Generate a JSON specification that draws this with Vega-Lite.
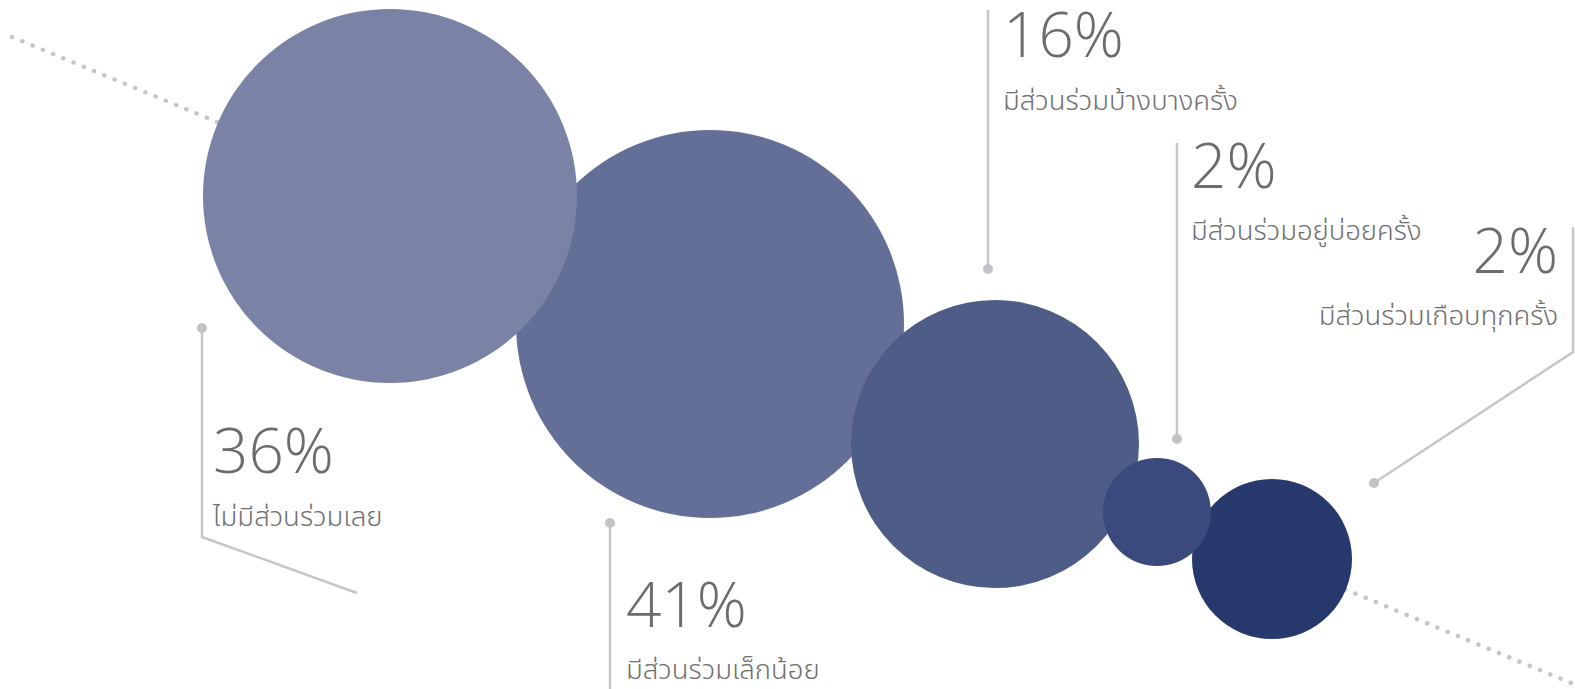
{
  "$schema": "https://vega.github.io/schema/vega-lite/v6.json",
  "width": 1575,
  "height": 689,
  "autosize": {"type": "none"},
  "padding": 0,
  "background": "#ffffff",
  "config": {"view": {"stroke": null}},
  "datasets": {
    "trend": [
      {"x": 12, "y": 37},
      {"x": 1571, "y": 683}
    ],
    "bubbles": [
      {"category": "มีส่วนร่วมเล็กน้อย", "x": 710, "y": 324, "d": 388},
      {"category": "ไม่มีส่วนร่วมเลย", "x": 390, "y": 196, "d": 374},
      {"category": "มีส่วนร่วมบ้างบางครั้ง", "x": 995, "y": 444, "d": 288},
      {"category": "มีส่วนร่วมเกือบทุกครั้ง", "x": 1272, "y": 559, "d": 160},
      {"category": "มีส่วนร่วมอยู่บ่อยครั้ง", "x": 1157, "y": 512, "d": 108}
    ],
    "leaders": [
      {"leader": "a", "i": 0, "x": 202, "y": 328},
      {"leader": "a", "i": 1, "x": 202, "y": 537},
      {"leader": "a", "i": 2, "x": 357, "y": 593},
      {"leader": "b", "i": 0, "x": 610, "y": 523},
      {"leader": "b", "i": 1, "x": 610, "y": 692},
      {"leader": "c", "i": 0, "x": 988, "y": 269},
      {"leader": "c", "i": 1, "x": 988, "y": 10},
      {"leader": "d", "i": 0, "x": 1177, "y": 439},
      {"leader": "d", "i": 1, "x": 1177, "y": 143},
      {"leader": "e", "i": 0, "x": 1374, "y": 483},
      {"leader": "e", "i": 1, "x": 1573, "y": 352},
      {"leader": "e", "i": 2, "x": 1573, "y": 227}
    ],
    "dots": [
      {"x": 202, "y": 328},
      {"x": 610, "y": 523},
      {"x": 988, "y": 269},
      {"x": 1177, "y": 439},
      {"x": 1374, "y": 483}
    ],
    "labels": [
      {"pct": "36%", "name": "ไม่มีส่วนร่วมเลย", "side": "left", "x": 213, "py": 473, "ny": 526},
      {"pct": "41%", "name": "มีส่วนร่วมเล็กน้อย", "side": "left", "x": 626, "py": 627, "ny": 679},
      {"pct": "16%", "name": "มีส่วนร่วมบ้างบางครั้ง", "side": "left", "x": 1003, "py": 57, "ny": 110},
      {"pct": "2%", "name": "มีส่วนร่วมอยู่บ่อยครั้ง", "side": "left", "x": 1191, "py": 188, "ny": 240},
      {"pct": "2%", "name": "มีส่วนร่วมเกือบทุกครั้ง", "side": "right", "x": 1558, "py": 273, "ny": 325}
    ]
  },
  "layer": [
    {
      "data": {"name": "trend"},
      "mark": {"type": "line", "color": "#c6c6ca", "strokeWidth": 4.5, "strokeCap": "round", "strokeDash": [0.1, 11]},
      "encoding": {
        "x": {"field": "x", "type": "quantitative", "scale": {"domain": [0, 1575], "nice": false, "zero": false}, "axis": null},
        "y": {"field": "y", "type": "quantitative", "scale": {"domain": [0, 689], "nice": false, "zero": false, "reverse": true}, "axis": null}
      }
    },
    {
      "data": {"name": "bubbles"},
      "mark": {"type": "circle", "opacity": 1, "stroke": null},
      "encoding": {
        "x": {"field": "x", "type": "quantitative"},
        "y": {"field": "y", "type": "quantitative"},
        "size": {"field": "d", "type": "quantitative", "scale": {"type": "pow", "exponent": 2, "domain": [0, 400], "range": [0, 160000]}, "legend": null},
        "color": {
          "field": "category", "type": "nominal", "legend": null,
          "scale": {
            "domain": ["ไม่มีส่วนร่วมเลย", "มีส่วนร่วมเล็กน้อย", "มีส่วนร่วมบ้างบางครั้ง", "มีส่วนร่วมอยู่บ่อยครั้ง", "มีส่วนร่วมเกือบทุกครั้ง"],
            "range": ["#7a82a6", "#646f98", "#4e5d88", "#3a4a7c", "#26386c"]
          }
        }
      }
    },
    {
      "data": {"name": "leaders"},
      "mark": {"type": "line", "color": "#c6c6ca", "strokeWidth": 2.5},
      "encoding": {
        "x": {"field": "x", "type": "quantitative"},
        "y": {"field": "y", "type": "quantitative"},
        "detail": {"field": "leader", "type": "nominal"},
        "order": {"field": "i", "type": "quantitative"}
      }
    },
    {
      "data": {"name": "dots"},
      "mark": {"type": "circle", "color": "#c3c3c7", "opacity": 1, "size": 100},
      "encoding": {
        "x": {"field": "x", "type": "quantitative"},
        "y": {"field": "y", "type": "quantitative"}
      }
    },
    {
      "data": {"name": "labels"},
      "transform": [{"filter": "datum.side === 'left'"}],
      "mark": {"type": "text", "align": "left", "baseline": "alphabetic", "font": "Open Sans", "fontWeight": 300, "fontSize": 62, "color": "#6c6c6c"},
      "encoding": {
        "x": {"field": "x", "type": "quantitative"},
        "y": {"field": "py", "type": "quantitative"},
        "text": {"field": "pct"}
      }
    },
    {
      "data": {"name": "labels"},
      "transform": [{"filter": "datum.side === 'right'"}],
      "mark": {"type": "text", "align": "right", "baseline": "alphabetic", "font": "Open Sans", "fontWeight": 300, "fontSize": 62, "color": "#6c6c6c"},
      "encoding": {
        "x": {"field": "x", "type": "quantitative"},
        "y": {"field": "py", "type": "quantitative"},
        "text": {"field": "pct"}
      }
    },
    {
      "data": {"name": "labels"},
      "transform": [{"filter": "datum.side === 'left'"}],
      "mark": {"type": "text", "align": "left", "baseline": "alphabetic", "font": "Noto Sans Thai, Noto Sans", "fontWeight": 300, "fontSize": 27.5, "color": "#707070"},
      "encoding": {
        "x": {"field": "x", "type": "quantitative"},
        "y": {"field": "ny", "type": "quantitative"},
        "text": {"field": "name"}
      }
    },
    {
      "data": {"name": "labels"},
      "transform": [{"filter": "datum.side === 'right'"}],
      "mark": {"type": "text", "align": "right", "baseline": "alphabetic", "font": "Noto Sans Thai, Noto Sans", "fontWeight": 300, "fontSize": 27.5, "color": "#707070"},
      "encoding": {
        "x": {"field": "x", "type": "quantitative"},
        "y": {"field": "ny", "type": "quantitative"},
        "text": {"field": "name"}
      }
    }
  ]
}
